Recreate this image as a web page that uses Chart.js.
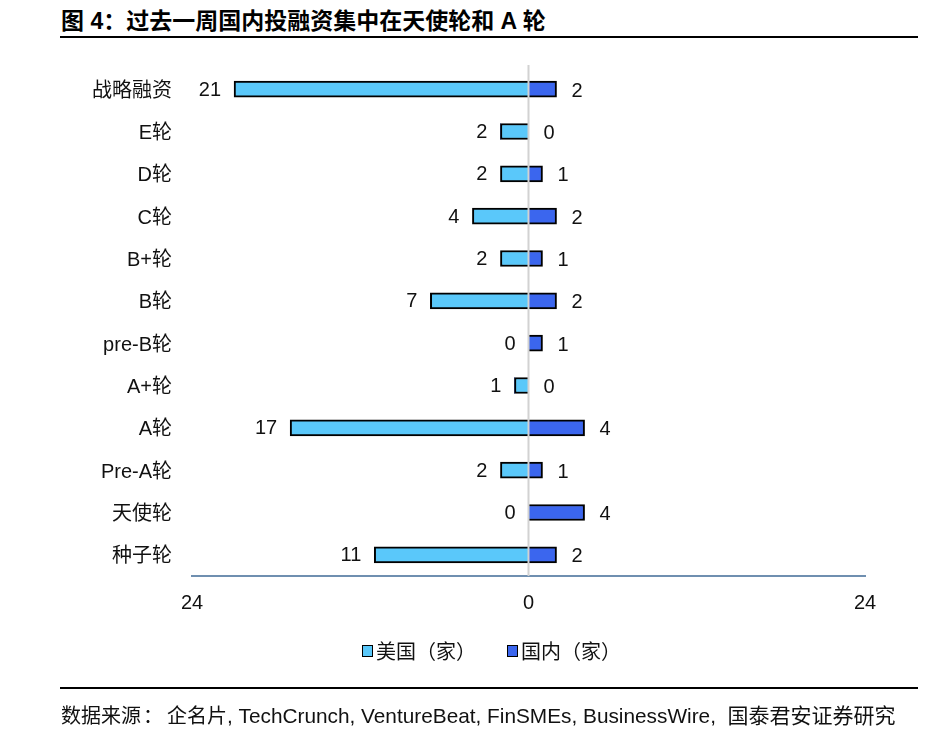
<!DOCTYPE html>
<html>
<head>
<meta charset="utf-8">
<script src="https://cdn.jsdelivr.net/npm/chart.js@4/dist/chart.umd.min.js"></script>
<style>
  html, body { margin: 0; padding: 0; background: #fff; }
  body { width: 938px; height: 746px; position: relative; overflow: hidden;
         font-family: "Liberation Sans", "Noto Sans CJK SC", sans-serif; color: #111; }
  .title { position: absolute; left: 61px; top: 2px; font-size: 23px; font-weight: bold; color: #000; }
  .rule { position: absolute; left: 60px; width: 858px; height: 2px; background: #000; }
  .source { position: absolute; left: 61px; top: 699px; font-size: 20px; white-space: nowrap; }
  .source .colon { margin: 0 4px 0 2px; }
  .source .latin { font-size: 20.8px; }
  .source .cjk { font-size: 21px; }
  .legend { position: absolute; top: 636px; left: 362px; font-size: 20px; display: flex; align-items: center; }
  .legend span.box { display: inline-block; width: 9px; height: 10px; border: 1px solid #000; margin-right: 3px; }
  .legend span.item { display: flex; align-items: center; margin-right: 31px; }
  #wrap { position: absolute; left: 0; top: 0; width: 938px; height: 746px; }
</style>
</head>
<body>
<div class="title">图 4：过去一周国内投融资集中在天使轮和 A 轮</div>
<div class="rule" style="top:36px"></div>
<div id="wrap"><canvas id="c"></canvas></div>
<div class="legend">
  <span class="item"><span class="box" style="background:#5ac8fa"></span>美国（家）</span>
  <span class="item"><span class="box" style="background:#3b66ee"></span>国内（家）</span>
</div>
<div class="rule" style="top:687px"></div>
<div class="source">数据来源<span class="colon">：</span>企名片<span class="latin">, TechCrunch, VentureBeat, FinSMEs, BusinessWire,&nbsp; </span><span class="cjk">国泰君安证券研究</span></div>
<script>
const categories = ["战略融资", "E轮", "D轮", "C轮", "B+轮", "B轮", "pre-B轮", "A+轮", "A轮", "Pre-A轮", "天使轮", "种子轮"];
const usCounts = [21, 2, 2, 4, 2, 7, 0, 1, 17, 2, 0, 11];
const cnCounts = [2, 0, 1, 2, 1, 2, 1, 0, 4, 1, 4, 2];
const xTicks = [-24, 0, 24];

const FONT = '"Liberation Sans", "Noto Sans CJK SC", sans-serif';
const US_COLOR = "#5ac8fa";
const CN_COLOR = "#3b66ee";

const valueLabels = {
  id: "valueLabels",
  afterDatasetsDraw(chart) {
    const { ctx, chartArea, scales } = chart;
    const x0 = scales.x.getPixelForValue(0);
    ctx.save();
    // zero line sits over the bars
    ctx.strokeStyle = "#d2d2d2";
    ctx.lineWidth = 2;
    ctx.beginPath();
    ctx.moveTo(x0, chartArea.top - 3);
    ctx.lineTo(x0, chartArea.bottom);
    ctx.stroke();

    ctx.font = "20px " + FONT;
    ctx.fillStyle = "#111";
    ctx.textBaseline = "middle";
    chart.getDatasetMeta(0).data.forEach((bar, i) => {
      ctx.textAlign = "right";
      ctx.fillText(String(usCounts[i]), scales.x.getPixelForValue(-usCounts[i]) - 13, bar.y + 1);
    });
    chart.getDatasetMeta(1).data.forEach((bar, i) => {
      ctx.textAlign = "left";
      ctx.fillText(String(cnCounts[i]), scales.x.getPixelForValue(cnCounts[i]) + 15, bar.y + 2);
    });
    ctx.restore();
  }
};

new Chart(document.getElementById("c"), {
  type: "bar",
  data: {
    labels: categories,
    datasets: [
      {
        label: "美国（家）",
        data: usCounts.map(v => -v),
        backgroundColor: US_COLOR,
        borderColor: "#000",
        borderWidth: c => (c.raw === 0 ? 0 : 2),
        barThickness: 16
      },
      {
        label: "国内（家）",
        data: cnCounts,
        backgroundColor: CN_COLOR,
        borderColor: "#000",
        borderWidth: c => (c.raw === 0 ? 0 : 2),
        barThickness: 16
      }
    ]
  },
  options: {
    indexAxis: "y",
    responsive: true,
    maintainAspectRatio: false,
    animation: false,
    layout: { padding: { top: 68, right: 73, bottom: 130, left: 0 } },
    plugins: { legend: { display: false }, tooltip: { enabled: false } },
    scales: {
      x: {
        stacked: true,
        min: -24,
        max: 24,
        afterBuildTicks: s => { s.ticks = xTicks.map(v => ({ value: v })); },
        afterFit: s => { s.height = 40; },
        grid: { display: false, drawTicks: false },
        border: { display: true, color: "#6f8fb0", width: 2 },
        ticks: {
          padding: 15,
          color: "#111",
          font: { family: FONT, size: 20 },
          callback: v => String(Math.abs(v))
        }
      },
      y: {
        stacked: true,
        afterFit: s => { s.width = 192; },
        grid: { display: false, drawTicks: false },
        border: { display: false },
        ticks: {
          padding: 20,
          labelOffset: 2,
          color: "#111",
          font: { family: FONT, size: 20 }
        }
      }
    }
  },
  plugins: [valueLabels]
});
</script>
</body>
</html>
